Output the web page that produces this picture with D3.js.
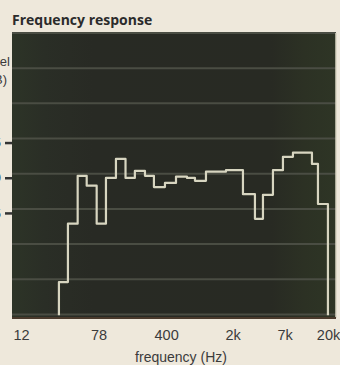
<!DOCTYPE html>
<html>
<head>
<meta charset="utf-8">
<script src="https://cdn.jsdelivr.net/npm/d3@7"></script>
<style>
  html, body { margin: 0; padding: 0; background: #eee8db; }
  svg { display: block; }
</style>
</head>
<body>
<svg id="chart" width="340" height="365"></svg>
<script>
// Third-octave style band edges (Hz) and the level held across each band (dB)
const bandEdges = [30, 37.3, 47.2, 58.7, 74.7, 93.5, 119, 150, 188, 240, 298, 389,
                   508, 662, 803, 1048, 1699, 2562, 3422, 4154, 5288, 6733, 8574,
                   13570, 15690, 19970];
const bandLevels = [-15.4, -7.1, -0.3, -1.7, -7.1, -0.6, 2.1, -0.6, 0.4, -0.3, -1.9,
                    -1.3, -0.4, -0.6, -1.0, 0.3, 0.5, -2.9, -6.4, -3.0, 0.5, 2.4, 3.0,
                    1.4, -4.3];
const floorLevel = -20.1;

// Axis ticks
const freqTicks = [12, 78, 400, 2000, 7000, 20000];
const freqTickLabels = ["12", "78", "400", "2k", "7k", "20k"];
const levelTicks = [5, 0, -5];
const levelTickLabels = ["+5", "0", "-5"];
const gridLevels = [20, 15, 10, 5, 0, -5, -10, -15, -20];

const svg = d3.select("#chart");
const plot = { left: 12, right: 336, top: 33, bottom: 318 };

const x = d3.scaleLog().domain([12, 20000]).range([plot.left + 9, plot.right - 8]);
const y = d3.scaleLinear().domain([-20.5, 20]).range([plot.bottom, plot.top]);

// Dark screen background with a slight green cast toward the edges
const defs = svg.append("defs");
const grad = defs.append("linearGradient").attr("id", "screen")
  .attr("x1", "0").attr("x2", "1").attr("y1", "0").attr("y2", "0");
[["0", "#2d3427"], ["0.1", "#2a2e26"], ["0.25", "#282a24"], ["0.8", "#282a23"],
 ["0.9", "#2c3124"], ["1", "#2e3525"]].forEach(([o, c]) =>
  grad.append("stop").attr("offset", o).attr("stop-color", c));

svg.append("rect")
  .attr("x", plot.left).attr("y", plot.top)
  .attr("width", plot.right - plot.left).attr("height", plot.bottom - plot.top)
  .attr("fill", "url(#screen)");

// Horizontal graticule
svg.append("g").selectAll("line").data(gridLevels).join("line")
  .attr("x1", plot.left).attr("x2", plot.right)
  .attr("y1", d => y(d)).attr("y2", d => y(d))
  .attr("stroke", "#4a4d43").attr("stroke-width", 2);

// Frame edges
svg.append("line").attr("x1", plot.right).attr("x2", plot.right)
  .attr("y1", plot.top).attr("y2", plot.bottom)
  .attr("stroke", "#d8d4c2").attr("stroke-width", 1.5);
svg.append("line").attr("x1", plot.left).attr("x2", plot.right)
  .attr("y1", plot.bottom).attr("y2", plot.bottom)
  .attr("stroke", "#4a3a2c").attr("stroke-width", 2);

// Stepped response trace
const pts = [[bandEdges[0], floorLevel]];
bandLevels.forEach((v, i) => pts.push([bandEdges[i], v]));
pts.push([bandEdges[bandEdges.length - 1], floorLevel]);

const line = d3.line()
  .x(d => x(d[0])).y(d => y(d[1]))
  .curve(d3.curveStepAfter);

svg.append("path")
  .datum(pts)
  .attr("d", line)
  .attr("fill", "none")
  .attr("stroke", "#d7d5c0")
  .attr("stroke-width", 2.2)
  .attr("stroke-linejoin", "round");

// Level axis (left)
const yAxis = d3.axisLeft(y).tickValues(levelTicks)
  .tickFormat((d, i) => levelTickLabels[i]).tickSize(7).tickPadding(4);
const yg = svg.append("g").attr("transform", `translate(${plot.left},4)`).call(yAxis);
yg.select(".domain").remove();
yg.selectAll(".tick line").attr("stroke", "#333").attr("stroke-width", 2.5);
yg.selectAll(".tick text").attr("fill", "#3a3a3a")
  .style("font-family", "'Liberation Sans', Arial, sans-serif").style("font-size", "13px");

// Frequency axis (bottom)
const xAxis = d3.axisBottom(x).tickValues(freqTicks)
  .tickFormat((d, i) => freqTickLabels[i]).tickSize(0).tickPadding(12);
const xg = svg.append("g").attr("transform", `translate(0,${plot.bottom})`).call(xAxis);
xg.select(".domain").remove();
xg.selectAll(".tick text").attr("fill", "#3b3b3b")
  .style("font-family", "'Liberation Sans', Arial, sans-serif").style("font-size", "14.5px");

// Titles
svg.append("text")
  .attr("x", 12).attr("y", 25)
  .attr("fill", "#2b2b2b")
  .style("font-family", "'Open Sans', Lato, sans-serif")
  .style("font-weight", "700").style("font-size", "14px")
  .text("Frequency response");

svg.append("text")
  .attr("x", 181).attr("y", 362)
  .attr("text-anchor", "middle")
  .attr("fill", "#3b3b3b")
  .style("font-family", "'Liberation Sans', Arial, sans-serif").style("font-size", "14px")
  .text("frequency (Hz)");

const yTitle = svg.append("text")
  .attr("text-anchor", "end")
  .attr("fill", "#3a3a3a")
  .style("font-family", "'Liberation Sans', Arial, sans-serif").style("font-size", "13px");
yTitle.append("tspan").attr("x", 10).attr("y", 66).text("level");
yTitle.append("tspan").attr("x", 7).attr("y", 84).text("(dB)");
</script>
</body>
</html>
